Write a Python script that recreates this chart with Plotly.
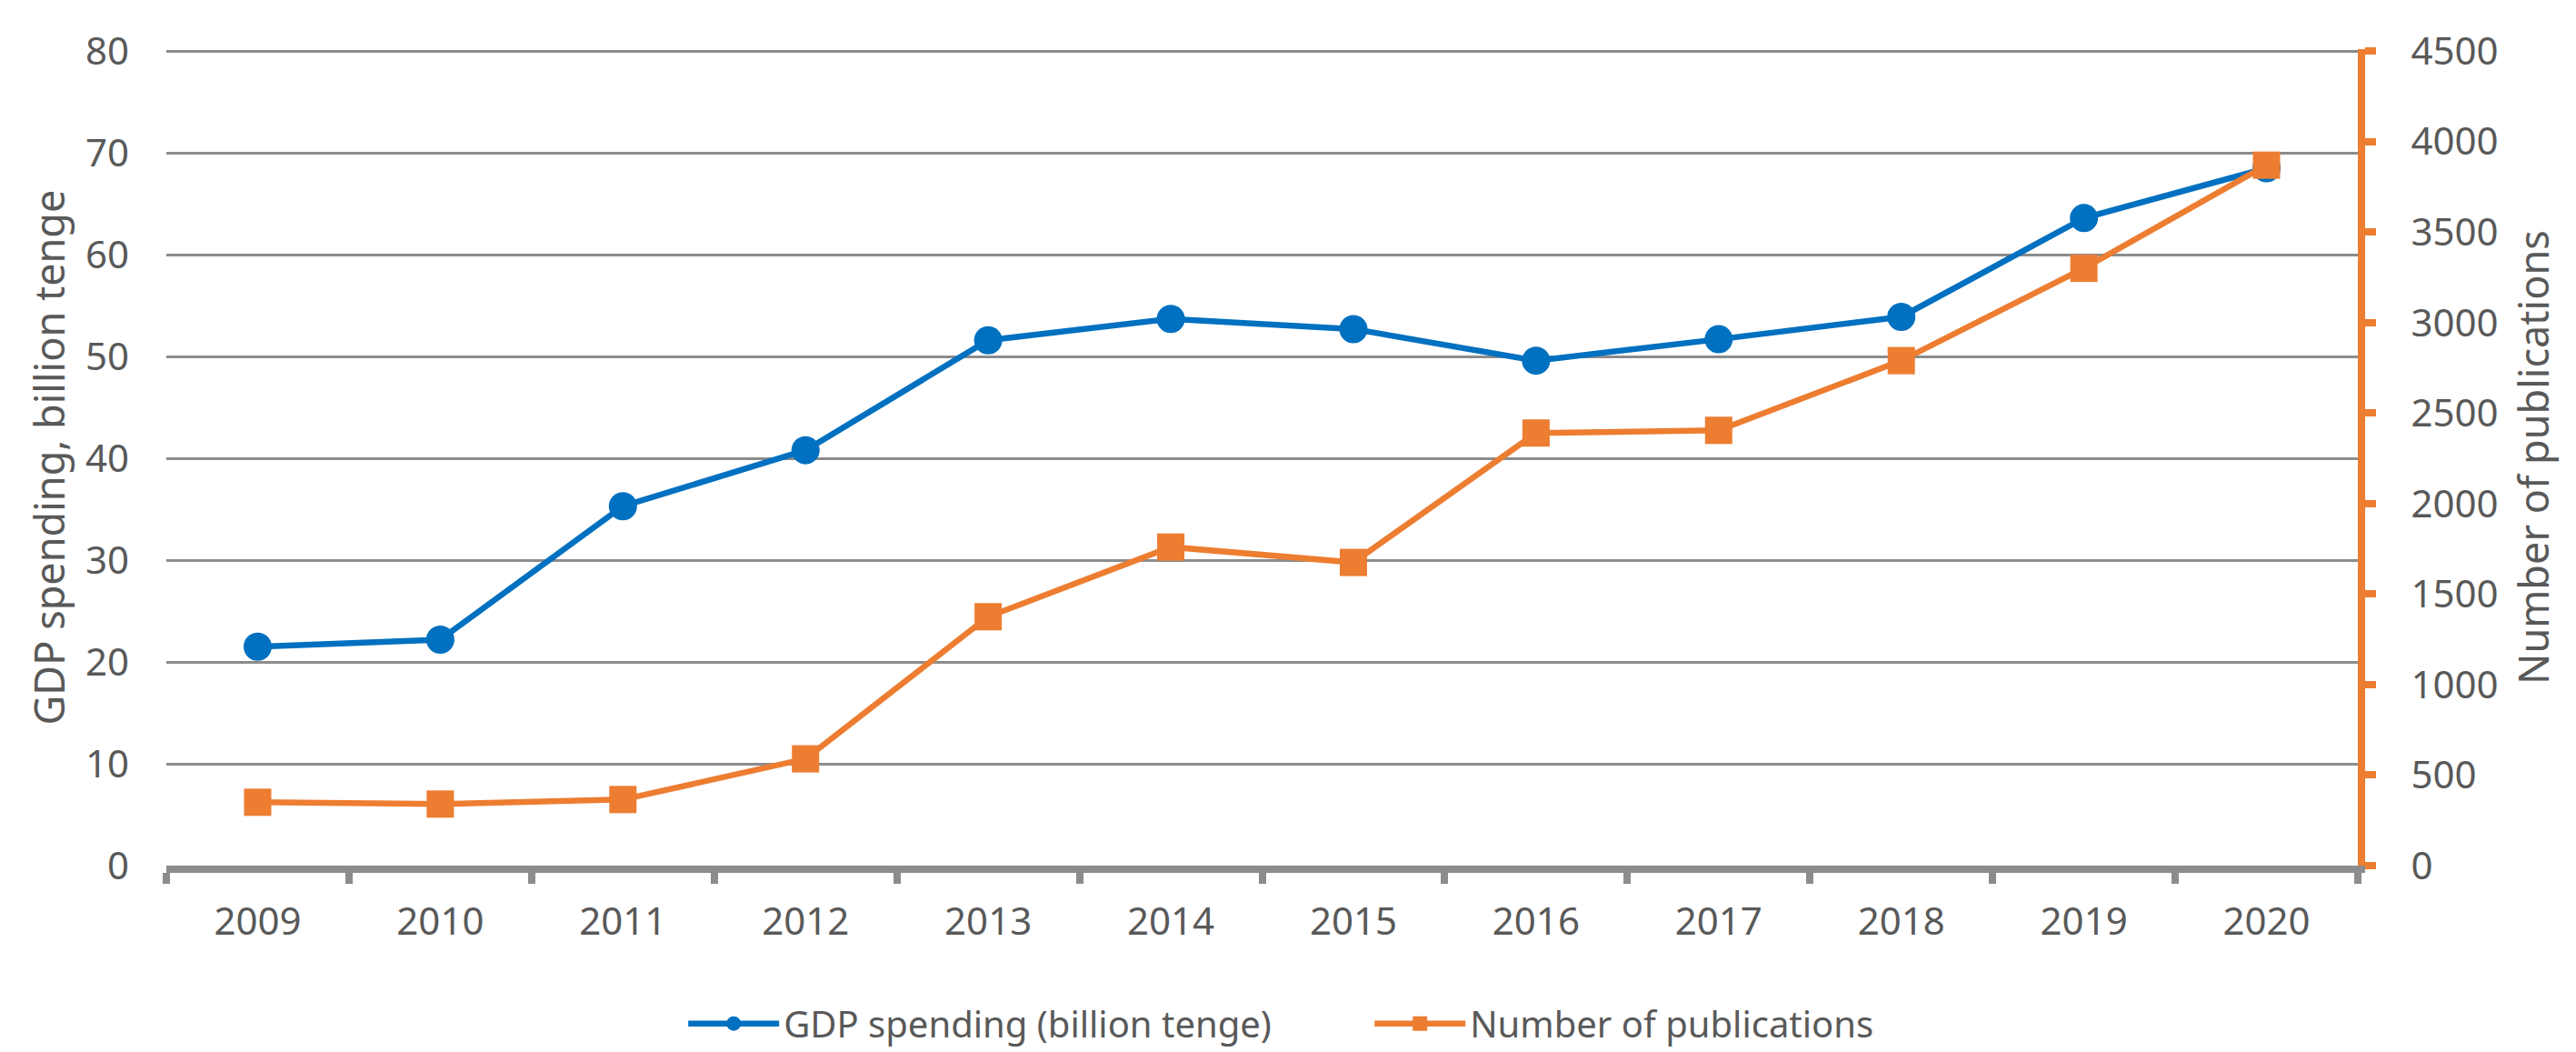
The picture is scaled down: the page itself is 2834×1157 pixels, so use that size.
import plotly.graph_objects as go

years = ["2009", "2010", "2011", "2012", "2013", "2014", "2015", "2016", "2017", "2018", "2019", "2020"]
gdp_spending = [21.5, 22.2, 35.3, 40.8, 51.6, 53.7, 52.7, 49.6, 51.7, 53.9, 63.6, 68.5]
publications = [350, 340, 365, 590, 1375, 1760, 1675, 2390, 2405, 2790, 3300, 3870]

BLUE = "#0070C0"
ORANGE = "#ED7D31"
GRID = "#8C8C8C"
TEXT = "#595959"
FONT = "Noto Sans"

fig = go.Figure()
fig.add_trace(go.Scatter(
    x=years, y=gdp_spending, name="GDP spending (billion tenge)",
    mode="lines+markers",
    line=dict(color=BLUE, width=6.5),
    marker=dict(symbol="circle", size=31, color=BLUE),
    yaxis="y",
))
fig.add_trace(go.Scatter(
    x=years, y=publications, name="Number of publications",
    mode="lines+markers",
    line=dict(color=ORANGE, width=6.5),
    marker=dict(symbol="square", size=30, color=ORANGE),
    yaxis="y2",
))

fig.update_layout(
    width=2834, height=1157,
    margin=dict(l=175, r=248, t=46, b=213, autoexpand=False),
    paper_bgcolor="white", plot_bgcolor="white",
    font=dict(family=FONT, color=TEXT, size=42),
    xaxis=dict(
        type="category", range=[-0.5, 11.5],
        tickson="boundaries", ticks="outside", ticklen=12, tickwidth=8, tickcolor=GRID,
        showline=True, linecolor=GRID, linewidth=8,
        showgrid=False, zeroline=False,
        tickfont=dict(size=42, color=TEXT, family=FONT),
        ticklabelstandoff=18,
    ),
    yaxis=dict(
        range=[0, 80.2], tickvals=[0, 10, 20, 30, 40, 50, 60, 70, 80],
        showgrid=True, gridcolor=GRID, gridwidth=3,
        zeroline=False, showline=False, ticks="",
        tickfont=dict(size=42, color=TEXT, family=FONT),
        ticklabelstandoff=40,
        title=dict(text="GDP spending, billion tenge", font=dict(size=45, color=TEXT, family=FONT), standoff=8),
    ),
    yaxis2=dict(
        range=[0, 4511.25], tickvals=[0, 500, 1000, 1500, 2000, 2500, 3000, 3500, 4000, 4500],
        overlaying="y", side="right",
        showgrid=False, zeroline=False,
        showline=True, linecolor=ORANGE, linewidth=8,
        ticks="outside", ticklen=12, tickwidth=8, tickcolor=ORANGE,
        tickfont=dict(size=42, color=TEXT, family=FONT),
        ticklabelstandoff=30,
        title=dict(text="Number of publications", font=dict(size=45, color=TEXT, family=FONT), standoff=28),
    ),
    legend=dict(
        orientation="h", xref="container", x=0.529, xanchor="center",
        yref="container", y=0.034, yanchor="middle",
        font=dict(size=40, color=TEXT, family=FONT),
        itemwidth=100, entrywidth=640, traceorder="normal",
    ),
    showlegend=True,
)

fig.write_html("out.html")
